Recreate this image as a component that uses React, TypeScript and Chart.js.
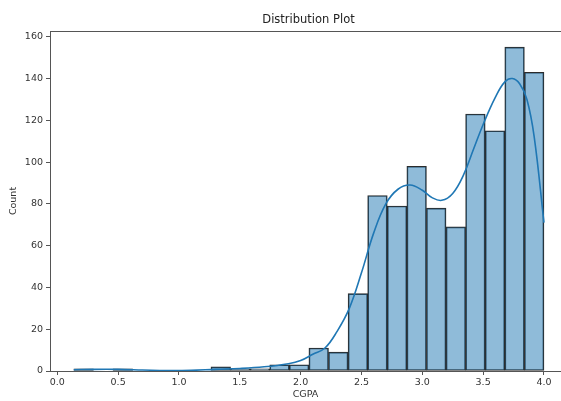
import React, { useEffect, useRef } from "react";
import { Chart, registerables } from "chart.js";

Chart.register(...registerables);

const chartTitle = "Distribution Plot";
const xLabel = "CGPA";
const yLabel = "Count";

const binStart = 0.136;
const binWidth = 0.161;
const counts = [1, 0, 1, 0, 0, 0, 0, 2, 1, 1, 3, 3, 11, 9, 37, 84, 79, 98, 78, 69, 123, 115, 155, 143];

const kdeX = [0.136, 0.3, 0.5, 0.7, 0.9, 1.1, 1.3, 1.5, 1.7, 1.9, 2.0, 2.1, 2.2, 2.3, 2.4, 2.5, 2.6, 2.7, 2.8, 2.9, 3.0, 3.08, 3.16, 3.25, 3.34, 3.42, 3.5, 3.6, 3.68, 3.74, 3.8, 3.86, 3.92, 4.0];
const kdeY = [0.6, 0.8, 0.8, 0.5, 0.2, 0.3, 0.8, 1.2, 2.0, 3.5, 5, 8, 11, 19, 30, 47, 66, 80, 87, 89, 86.5, 83, 81.7, 85, 94, 106, 118, 131, 138.5, 140, 137.5, 130, 112, 71];

const xTicks = [0.0, 0.5, 1.0, 1.5, 2.0, 2.5, 3.0, 3.5, 4.0];
const yTicks = [0, 20, 40, 60, 80, 100, 120, 140, 160];

const FONT = "'DejaVu Sans', sans-serif";
const TEXT = "#333333";
const AXIS = "#555555";

const framePlugin = {
  id: "frameTop",
  afterDatasetsDraw(chart: any) {
    const { ctx, chartArea } = chart;
    ctx.save();
    ctx.strokeStyle = AXIS;
    ctx.lineWidth = 1;
    ctx.beginPath();
    ctx.moveTo(chartArea.left, chartArea.top + 0.5);
    ctx.lineTo(chartArea.right, chartArea.top + 0.5);
    ctx.stroke();
    ctx.fillStyle = "#222222";
    ctx.font = "11.5px " + FONT;
    ctx.textAlign = "center";
    ctx.textBaseline = "middle";
    ctx.fillText(chartTitle, (chartArea.left + chartArea.right + 6) / 2, 20);
    ctx.restore();
  },
};

export default function App() {
  const ref = useRef<HTMLCanvasElement | null>(null);

  useEffect(() => {
    document.body.style.margin = "0";
    const canvas = ref.current;
    if (!canvas) return;

    const barData = counts.map((c, i) => ({ x: binStart + (i + 0.5) * binWidth, y: c }));
    const lineData = kdeX.map((x, i) => ({ x, y: kdeY[i] }));

    const chart = new Chart(canvas, {
      type: "bar",
      data: {
        datasets: [
          {
            type: "line",
            data: lineData,
            borderColor: "#1f77b4",
            borderWidth: 1.6,
            pointRadius: 0,
            tension: 0.4,
            fill: false,
            order: 0,
          } as any,
          {
            type: "bar",
            data: barData,
            backgroundColor: "rgba(31,119,180,0.5)",
            borderColor: "#2b2b2b",
            borderWidth: 1,
            borderSkipped: false,
            barPercentage: 1,
            categoryPercentage: 1,
            order: 1,
          } as any,
        ],
      },
      options: {
        animation: false,
        responsive: false,
        maintainAspectRatio: false,
        layout: { padding: { top: 31, left: 0, right: 0, bottom: 0 } },
        plugins: {
          legend: { display: false },
          tooltip: { enabled: false },
          title: { display: false },
        },
        scales: {
          x: {
            type: "linear",
            min: -0.06,
            max: 4.14,
            offset: false,
            grid: {
              display: true,
              drawOnChartArea: false,
              offset: false,
              tickLength: 4,
              color: AXIS,
            },
            border: { display: true, color: AXIS, width: 1 },
            ticks: {
              color: TEXT,
              font: { family: FONT, size: 9.5 },
              padding: 2,
              maxRotation: 0,
              callback: (v: any) => Number(v).toFixed(1),
            },
            afterBuildTicks: (scale: any) => {
              scale.ticks = xTicks.map((v) => ({ value: v }));
            },
            afterFit: (scale: any) => {
              scale.height = 30;
            },
            title: {
              display: true,
              text: xLabel,
              color: TEXT,
              font: { family: FONT, size: 9.5 },
              padding: { top: 0, bottom: 1 },
            },
          },
          y: {
            type: "linear",
            min: 0,
            max: 162.75,
            grid: {
              display: true,
              drawOnChartArea: false,
              tickLength: 4,
              color: AXIS,
            },
            border: { display: true, color: AXIS, width: 1 },
            ticks: {
              color: TEXT,
              font: { family: FONT, size: 9.5 },
              padding: 3,
            },
            afterBuildTicks: (scale: any) => {
              scale.ticks = yTicks.map((v) => ({ value: v }));
            },
            afterFit: (scale: any) => {
              scale.width = 50;
            },
            title: {
              display: true,
              text: yLabel,
              color: TEXT,
              font: { family: FONT, size: 9.5 },
              padding: { top: 8, bottom: 0 },
            },
          },
        },
      },
      plugins: [framePlugin],
    });

    return () => chart.destroy();
  }, []);

  return (
    <div style={{ position: "fixed", left: 0, top: 0, width: 561, height: 401, background: "#ffffff" }}>
      <canvas ref={ref} width={561} height={401} style={{ width: 561, height: 401, display: "block" }} />
    </div>
  );
}
